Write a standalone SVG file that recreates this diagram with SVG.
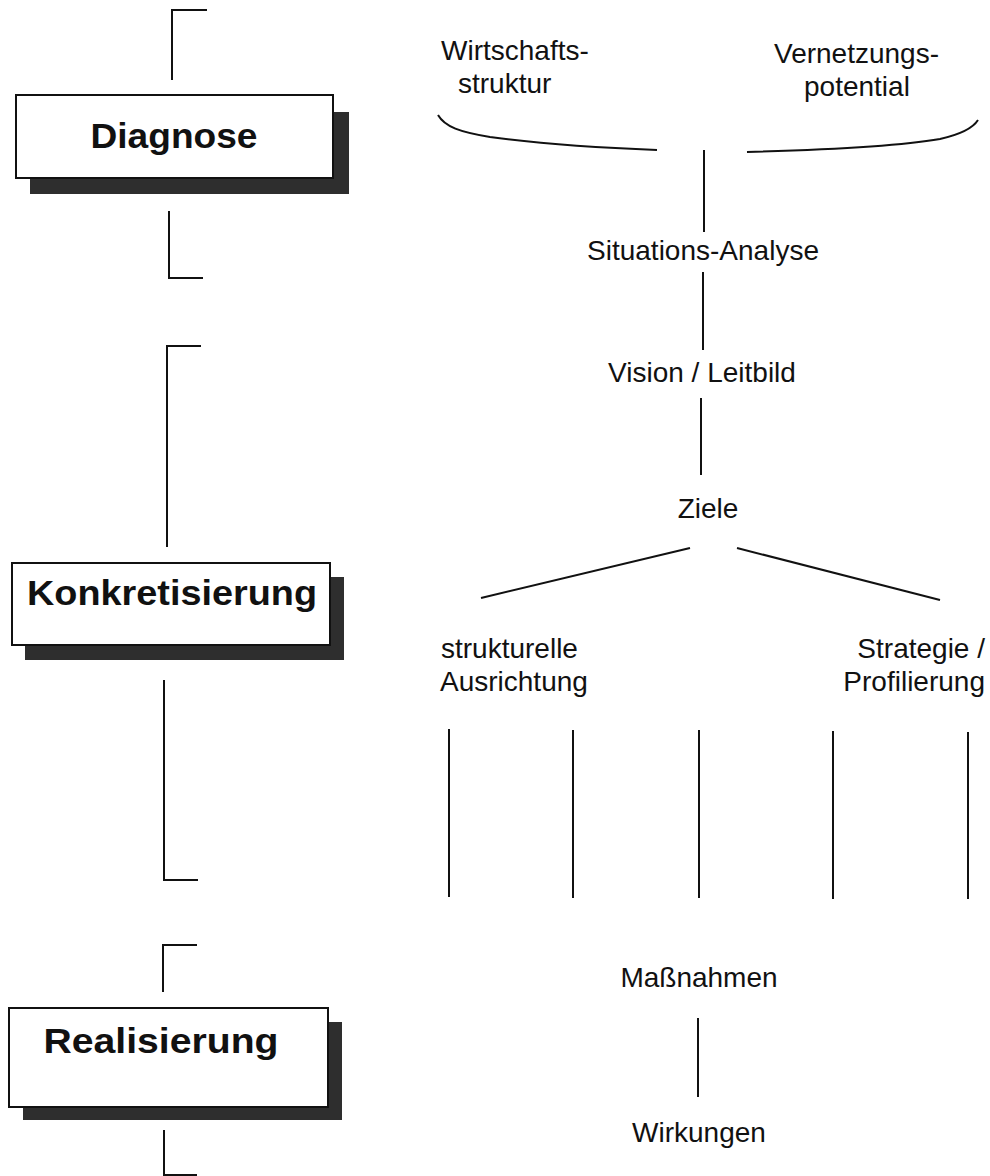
<svg xmlns="http://www.w3.org/2000/svg" width="990" height="1176" viewBox="0 0 990 1176">
<defs>
<style>
.ln{stroke:#111;stroke-width:2;fill:none;stroke-linecap:butt}
.box{fill:#fff;stroke:#111;stroke-width:2}
.sh{fill:#2e2e2e}
.bt{font-family:"Liberation Sans",Arial,sans-serif;font-weight:bold;font-size:35px;fill:#111;text-anchor:middle}
.t{font-family:"Liberation Sans",Arial,sans-serif;font-size:28px;fill:#111}
.m{text-anchor:middle}
.e{text-anchor:end}
</style>
</defs>
<rect width="990" height="1176" fill="#fff"/>
<g id="brackets">
<path class="ln" d="M207,10 H172 V80"/>
<path class="ln" d="M169,211 V278 H203"/>
<path class="ln" d="M201,346 H167 V547"/>
<path class="ln" d="M164,680 V880 H198"/>
<path class="ln" d="M197,945 H163 V992"/>
<path class="ln" d="M164,1130 V1175 H197"/>
</g>
<g id="diagnose">
<rect class="sh" x="30" y="112" width="319" height="82"/>
<rect class="box" x="16" y="95" width="317" height="83"/>
<text class="bt" x="174" y="148" textLength="167" lengthAdjust="spacingAndGlyphs">Diagnose</text>
</g>
<g id="konkretisierung">
<rect class="sh" x="25" y="577" width="319" height="83"/>
<rect class="box" x="12" y="563" width="318" height="82"/>
<text class="bt" x="172" y="605" textLength="290" lengthAdjust="spacingAndGlyphs">Konkretisierung</text>
</g>
<g id="realisierung">
<rect class="sh" x="23" y="1022" width="319" height="98"/>
<rect class="box" x="9" y="1008" width="319" height="99"/>
<text class="bt" x="161" y="1053" textLength="235" lengthAdjust="spacingAndGlyphs">Realisierung</text>
</g>
<g id="wirtschaftsstruktur">
<text class="t" x="441" y="60">Wirtschafts-</text>
<text class="t" x="458" y="93">struktur</text>
</g>
<g id="vernetzungspotential">
<text class="t" x="774" y="63">Vernetzungs-</text>
<text class="t" x="804" y="96">potential</text>
</g>
<g id="situationsanalyse"><text class="t m" x="703" y="260">Situations-Analyse</text></g>
<g id="vision"><text class="t m" x="702" y="382">Vision / Leitbild</text></g>
<g id="ziele"><text class="t m" x="708" y="518">Ziele</text></g>
<g id="strukturelle">
<text class="t" x="441" y="658">strukturelle</text>
<text class="t" x="440" y="691">Ausrichtung</text>
</g>
<g id="strategie">
<text class="t e" x="985" y="658">Strategie /</text>
<text class="t e" x="985" y="691">Profilierung</text>
</g>
<g id="massnahmen"><text class="t m" x="699" y="987">Maßnahmen</text></g>
<g id="wirkungen"><text class="t m" x="699" y="1142">Wirkungen</text></g>
<g id="connectors">
<path class="ln" d="M438,115 C445,127 460,132 490,137 C540,144 600,148 657,150"/>
<path class="ln" d="M747,152 C820,150 900,146 940,139 C962,134 973,128 978,120"/>
<path class="ln" d="M704,150 V232"/>
<path class="ln" d="M703,272 V350"/>
<path class="ln" d="M701,398 V475"/>
<path class="ln" d="M481,598 L690,548"/>
<path class="ln" d="M737,548 L940,600"/>
<path class="ln" d="M449,729 V897"/>
<path class="ln" d="M573,730 V898"/>
<path class="ln" d="M699,730 V898"/>
<path class="ln" d="M833,731 V899"/>
<path class="ln" d="M968,732 V899"/>
<path class="ln" d="M698,1018 V1097"/>
</g>
</svg>
